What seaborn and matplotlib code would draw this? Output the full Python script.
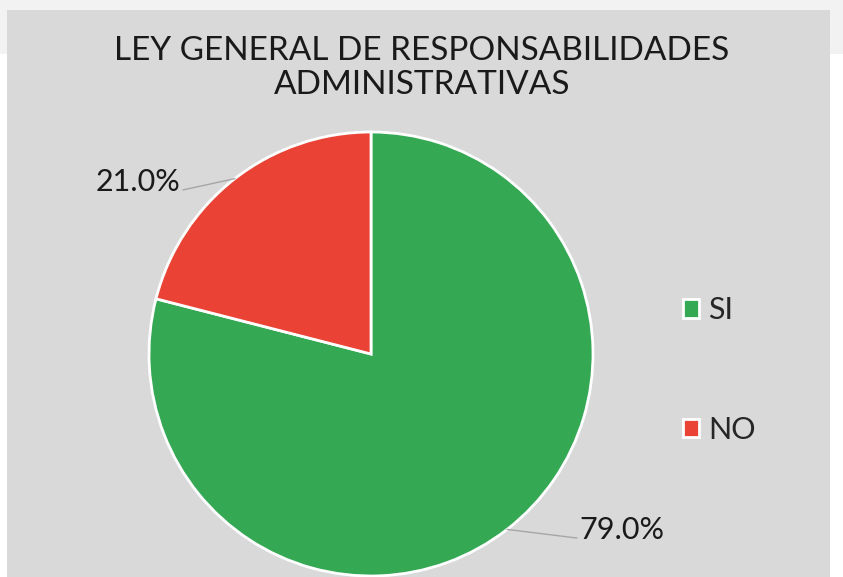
import numpy as np
import matplotlib.pyplot as plt
import seaborn as sns
from matplotlib.patches import Rectangle

# data
categorias = ["SI", "NO"]
porcentajes = [79.0, 21.0]
colores = ["#34a853", "#ea4335"]
titulo = "LEY GENERAL DE RESPONSABILIDADES\nADMINISTRATIVAS"

sns.set_style("white")
plt.rcParams["font.family"] = ["Lato", "DejaVu Sans"]

W, H = 843, 577
fig = plt.figure(figsize=(W / 100, H / 100), dpi=100)
fig.patch.set_facecolor("white")

# background strips like the original screenshot
fig.patches.append(Rectangle((0, (H - 54) / H), 1, 54 / H, transform=fig.transFigure,
                             facecolor="#f2f2f2", edgecolor="none", zorder=-2))
fig.patches.append(Rectangle((7 / W, 0), 823 / W, (H - 10) / H, transform=fig.transFigure,
                             facecolor="#d9d9d9", edgecolor="none", zorder=-1))

ax = fig.add_axes([0, 0, 1, 1])
ax.set_facecolor("none")
r_px = 222
cx, cy = 371, H - 354

wedges, _ = ax.pie(porcentajes, colors=colores, startangle=90, counterclock=False,
                   wedgeprops=dict(edgecolor="white", linewidth=2))
ax.set_xlim(-cx / r_px, (W - cx) / r_px)
ax.set_ylim(-cy / r_px, (H - cy) / r_px)
ax.axis("off")

# labels outside with leader lines
destinos = {"SI": (0.928, -0.829, "left"), "NO": (-0.847, 0.739, "right")}
for w, cat, pct in zip(wedges, categorias, porcentajes):
    ang = np.deg2rad((w.theta1 + w.theta2) / 2)
    px, py = np.cos(ang), np.sin(ang)
    tx, ty, ha = destinos[cat]
    ax.plot([px, tx], [py, ty], color="#a6a6a6", lw=1)
    off = 0.01 if ha == "left" else -0.01
    ax.text(tx + off, ty + 0.035, f"{pct:.1f}%", ha=ha, va="center", fontsize=22,
            color="#1a1a1a")

ax.legend(wedges, categorias, loc="center left", bbox_to_anchor=(655 / W, (H - 370) / H),
          frameon=False, fontsize=22, handlelength=0.55, handleheight=0.55,
          handletextpad=0.3, labelspacing=3.0)

fig.text(422 / W, (H - 68) / H, titulo, ha="center", va="center", fontsize=24,
         color="#1a1a1a", linespacing=1.15)

fig.savefig("out.png", dpi=100)
